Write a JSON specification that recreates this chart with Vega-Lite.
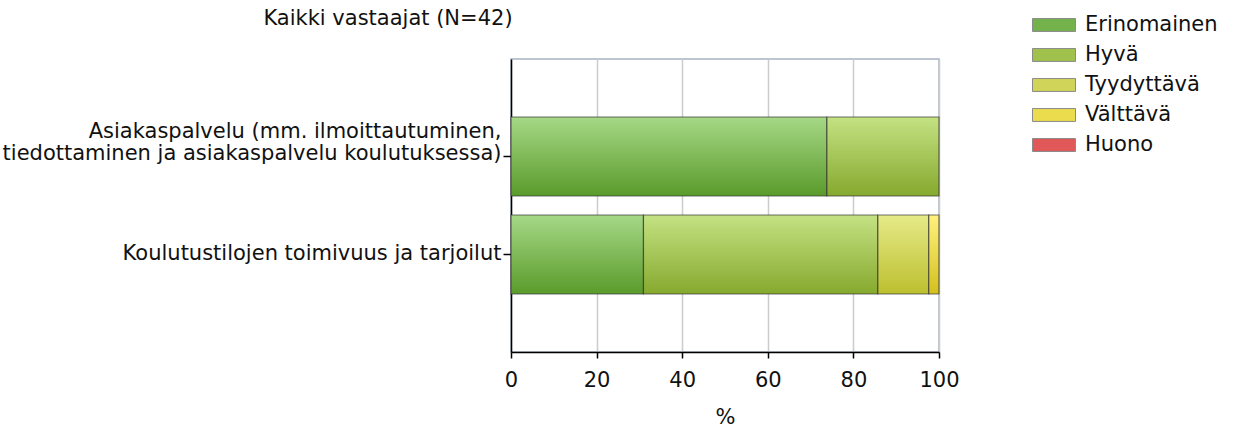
{
  "$schema": "https://vega.github.io/schema/vega-lite/v6.json",
  "width": 428,
  "height": 293,
  "autosize": {"type": "none"},
  "padding": {"left": 511, "top": 59, "right": 303, "bottom": 76},
  "background": "white",
  "title": {
    "text": "Kaikki vastaajat (N=42)",
    "anchor": "middle",
    "dx": -337,
    "offset": 0,
    "dy": 35,
    "baseline": "bottom",
    "fontSize": 21,
    "font": "DejaVu Sans",
    "fontWeight": "normal",
    "color": "#111111"
  },
  "data": {
    "values": [
      {"aihe": "Asiakaspalvelu (mm. ilmoittautuminen,|tiedottaminen ja asiakaspalvelu koulutuksessa)", "arvio": "Erinomainen", "jarj": 1, "osuus": 73.81},
      {"aihe": "Asiakaspalvelu (mm. ilmoittautuminen,|tiedottaminen ja asiakaspalvelu koulutuksessa)", "arvio": "Hyvä", "jarj": 2, "osuus": 26.19},
      {"aihe": "Koulutustilojen toimivuus ja tarjoilut", "arvio": "Erinomainen", "jarj": 1, "osuus": 30.95},
      {"aihe": "Koulutustilojen toimivuus ja tarjoilut", "arvio": "Hyvä", "jarj": 2, "osuus": 54.76},
      {"aihe": "Koulutustilojen toimivuus ja tarjoilut", "arvio": "Tyydyttävä", "jarj": 3, "osuus": 11.90},
      {"aihe": "Koulutustilojen toimivuus ja tarjoilut", "arvio": "Välttävä", "jarj": 4, "osuus": 2.38}
    ]
  },
  "transform": [
    {"stack": "osuus", "groupby": ["aihe"], "sort": [{"field": "jarj", "order": "ascending"}], "as": ["x0", "x1"]}
  ],
  "encoding": {
    "y": {
      "field": "aihe",
      "type": "nominal",
      "sort": null,
      "scale": {"paddingInner": 0.194, "paddingOuter": 0.592},
      "axis": {
        "title": null,
        "domainColor": "#000000",
        "domainWidth": 1.5,
        "tickColor": "#000000",
        "tickWidth": 1.5,
        "tickSize": 8,
        "labelPadding": 2,
        "labelFontSize": 21,
        "labelFont": "DejaVu Sans",
        "labelColor": "#111111",
        "labelLimit": 0,
        "labelLineHeight": 22,
        "labelBaseline": "bottom",
        "labelOffset": {"condition": {"test": "indexof(datum.value, '|') >= 0", "value": -15}, "value": 10},
        "labelExpr": "split(datum.label, '|')"
      }
    },
    "x": {
      "field": "x0",
      "type": "quantitative",
      "scale": {"domain": [0, 100]},
      "axis": {
        "title": "%",
        "titleFontSize": 21,
        "titleFont": "DejaVu Sans",
        "titleFontWeight": "normal",
        "titleColor": "#111111",
        "titlePadding": 16,
        "values": [0, 20, 40, 60, 80, 100],
        "grid": true,
        "gridColor": "#cccccc",
        "gridWidth": 1.5,
        "domainColor": "#000000",
        "domainWidth": 1.5,
        "tickColor": "#000000",
        "tickWidth": 1.5,
        "tickSize": 6,
        "labelPadding": 11,
        "labelFontSize": 21,
        "labelFont": "DejaVu Sans",
        "labelColor": "#111111",
        "labelFlush": false
      }
    },
    "x2": {"field": "x1"}
  },
  "layer": [
    {
      "mark": {"type": "bar"},
      "encoding": {
        "color": {
          "field": "arvio",
          "type": "nominal",
          "scale": {
            "domain": ["Erinomainen", "Hyvä", "Tyydyttävä", "Välttävä", "Huono"],
            "range": ["#74b24c", "#a0c24c", "#d0d458", "#eadc4c", "#e05858"]
          },
          "legend": {
            "orient": "none",
            "legendX": 521,
            "legendY": -44,
            "title": null,
            "padding": 0,
            "symbolType": "M-1,-0.3H1V0.3H-1Z",
            "symbolSize": 1849,
            "symbolStrokeColor": "#8a8a8a",
            "symbolStrokeWidth": 1,
            "symbolOpacity": 1,
            "labelFontSize": 21,
            "labelFont": "DejaVu Sans",
            "labelColor": "#111111",
            "labelOffset": 9,
            "clipHeight": 20,
            "rowPadding": 9
          }
        }
      }
    },
    {
      "transform": [{"filter": "datum.arvio === 'Erinomainen'"}],
      "mark": {
        "type": "bar", "stroke": "#333333", "strokeWidth": 1.2, "strokeOpacity": 0.7,
        "color": {"gradient": "linear", "x1": 0, "y1": 0, "x2": 0, "y2": 1,
          "stops": [{"offset": 0, "color": "#a6d886"}, {"offset": 1, "color": "#5a9b2b"}]}
      }
    },
    {
      "transform": [{"filter": "datum.arvio === 'Hyvä'"}],
      "mark": {
        "type": "bar", "stroke": "#333333", "strokeWidth": 1.2, "strokeOpacity": 0.7,
        "color": {"gradient": "linear", "x1": 0, "y1": 0, "x2": 0, "y2": 1,
          "stops": [{"offset": 0, "color": "#c4e283"}, {"offset": 1, "color": "#86a92e"}]}
      }
    },
    {
      "transform": [{"filter": "datum.arvio === 'Tyydyttävä'"}],
      "mark": {
        "type": "bar", "stroke": "#333333", "strokeWidth": 1.2, "strokeOpacity": 0.7,
        "color": {"gradient": "linear", "x1": 0, "y1": 0, "x2": 0, "y2": 1,
          "stops": [{"offset": 0, "color": "#e6ea88"}, {"offset": 1, "color": "#bcbf2e"}]}
      }
    },
    {
      "transform": [{"filter": "datum.arvio === 'Välttävä'"}],
      "mark": {
        "type": "bar", "stroke": "#333333", "strokeWidth": 1.2, "strokeOpacity": 0.7,
        "color": {"gradient": "linear", "x1": 0, "y1": 0, "x2": 0, "y2": 1,
          "stops": [{"offset": 0, "color": "#fff27e"}, {"offset": 1, "color": "#d4c01e"}]}
      }
    }
  ],
  "config": {
    "view": {"stroke": "#a9b3c2", "strokeWidth": 1.5}
  }
}
